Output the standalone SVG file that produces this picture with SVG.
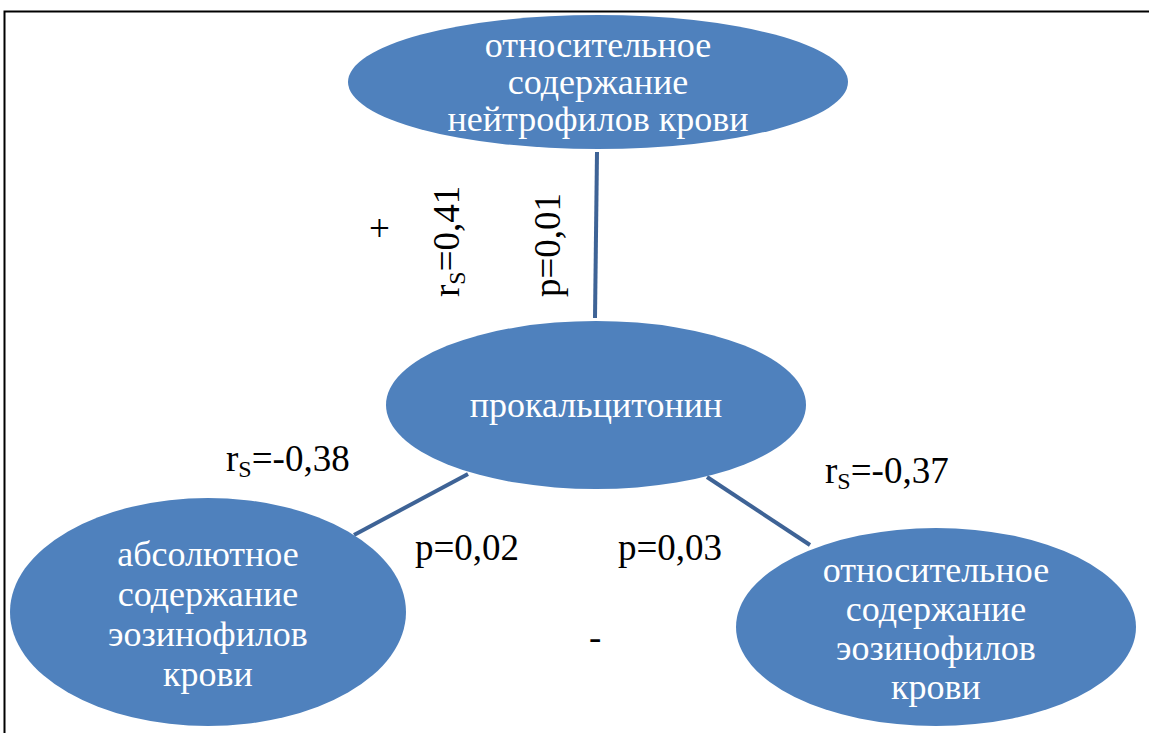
<svg xmlns="http://www.w3.org/2000/svg" width="1149" height="733" viewBox="0 0 1149 733">
<style>
.node{fill:#4f81bd}
.nt{font-size:36px;fill:#fff;text-anchor:middle}
.lb{font-size:37px;fill:#000}
.sub{font-size:24px}
.conn{stroke:#3e6396;stroke-width:4;fill:none}
</style>
<rect width="1149" height="733" fill="#fff"/>
<path d="M4.5 733 V11.5 H1149" fill="none" stroke="#000" stroke-width="2"/>
<g id="connectors">
<line class="conn" x1="597" y1="152" x2="595" y2="318"/>
<line class="conn" x1="468" y1="474" x2="354" y2="535"/>
<line class="conn" x1="707" y1="477" x2="810" y2="545"/>
</g>
<g font-family="Liberation Serif, serif">
<g id="node-top">
<ellipse class="node" cx="598" cy="82" rx="250" ry="67"/>
<text class="nt" x="598" y="57">относительное</text>
<text class="nt" x="598" y="94">содержание</text>
<text class="nt" x="598" y="131">нейтрофилов крови</text>
</g>
<g id="node-center">
<ellipse class="node" cx="596" cy="405" rx="210" ry="84"/>
<text class="nt" x="596" y="417">прокальцитонин</text>
</g>
<g id="node-left">
<ellipse class="node" cx="208" cy="612" rx="198" ry="114"/>
<text class="nt" x="208" y="566">абсолютное</text>
<text class="nt" x="208" y="606">содержание</text>
<text class="nt" x="208" y="646">эозинофилов</text>
<text class="nt" x="208" y="686">крови</text>
</g>
<g id="node-right">
<ellipse class="node" cx="936" cy="627" rx="200" ry="99"/>
<text class="nt" x="936" y="582">относительное</text>
<text class="nt" x="936" y="621">содержание</text>
<text class="nt" x="936" y="660">эозинофилов</text>
<text class="nt" x="936" y="699">крови</text>
</g>
<g id="labels">
<text class="lb" x="369" y="241">+</text>
<text class="lb" transform="translate(459,297) rotate(-90)">r<tspan class="sub" dy="6">S</tspan><tspan dy="-6">=0,41</tspan></text>
<text class="lb" transform="translate(560,297) rotate(-90)">p=0,01</text>
<text class="lb" x="226" y="471">r<tspan class="sub" dy="6">S</tspan><tspan dy="-6">=-0,38</tspan></text>
<text class="lb" x="415" y="560">p=0,02</text>
<text class="lb" x="618" y="560">p=0,03</text>
<text class="lb" x="825" y="483">r<tspan class="sub" dy="6">S</tspan><tspan dy="-6">=-0,37</tspan></text>
<text class="lb" x="589" y="650">-</text>
</g>
</g>
</svg>
